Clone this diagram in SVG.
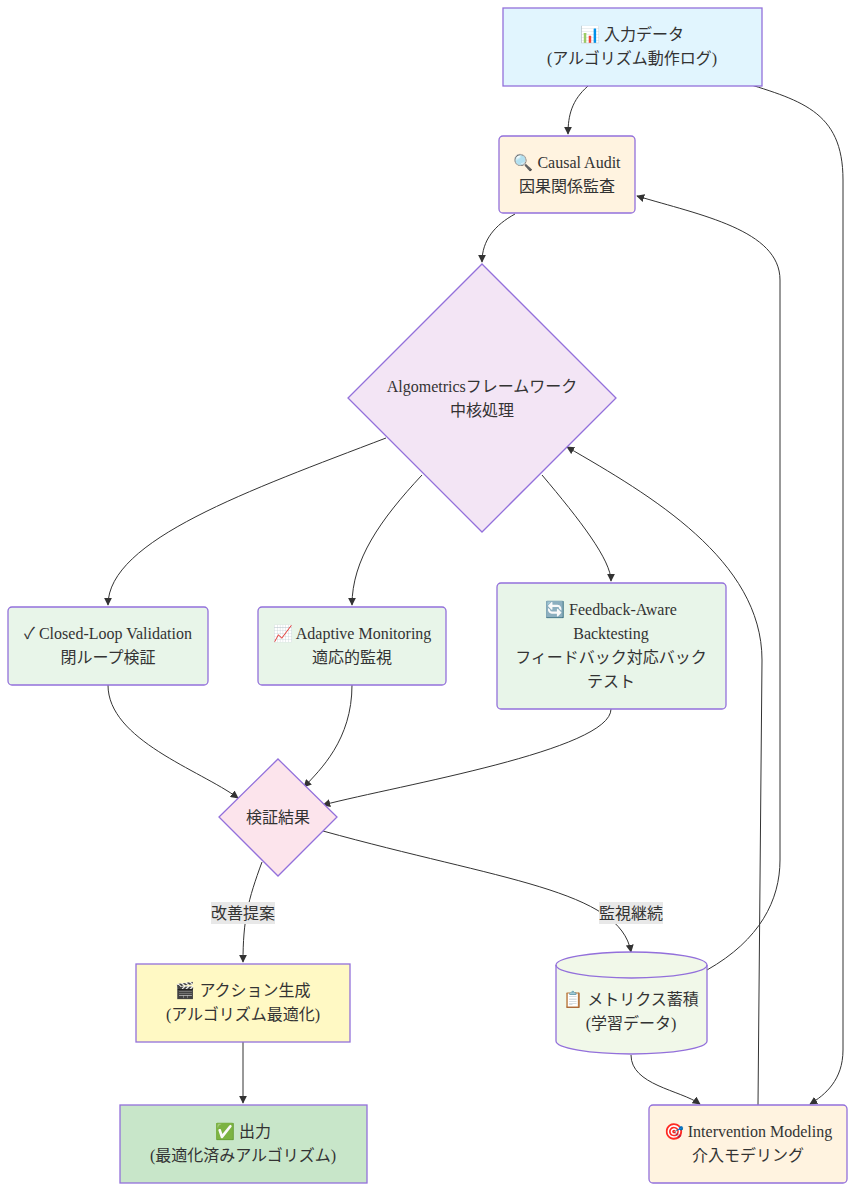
<svg xmlns="http://www.w3.org/2000/svg" width="855" height="1191" viewBox="0 0 855 1191">
<defs>
<marker id="ah" viewBox="0 0 10 10" refX="9" refY="5" markerWidth="8" markerHeight="8" orient="auto"><path d="M0,0 L10,5 L0,10 z" fill="#333"/></marker>
<style>
.n{stroke:#9370db;stroke-width:1.3}
.t{font-family:"Liberation Serif","Noto Sans CJK JP",serif;font-size:16px;fill:#333;text-anchor:middle}
.e{fill:none;stroke:#333;stroke-width:1;marker-end:url(#ah)}
.lb{fill:#e8e8e8}
</style>
</defs>
<rect width="855" height="1191" fill="#fff"/>
<g id="edges">
<path class="e" d="M588,86 C572,100 568,115 568,134"/>
<path class="e" d="M735,80 C800,100 843,110 843,180 L843,1050 C843,1080 825,1095 810,1104"/>
<path class="e" d="M515,214 C495,225 482,240 482,262"/>
<path class="e" d="M386,438 C250,490 108,540 108,605"/>
<path class="e" d="M422,475 C380,520 352,560 352,605"/>
<path class="e" d="M542,475 C580,520 611,560 611,581"/>
<path class="e" d="M108,685 C108,740 200,770 238,798"/>
<path class="e" d="M352,685 C352,740 320,770 304,787"/>
<path class="e" d="M611,709 C611,750 400,785 323,805"/>
<path class="e" d="M262,862 C248,900 243,920 243,962"/>
<path class="e" d="M323,831 C500,880 620,890 631,952"/>
<path class="e" d="M631,1055 C631,1085 680,1090 700,1104"/>
<path class="e" d="M243,1042 L243,1103"/>
<path class="e" d="M707,970 C760,940 780,900 780,860 L780,280 C780,230 700,215 637,196"/>
<path class="e" d="M758,1105 L762,660 C762,560 650,495 567,447"/>
<rect class="lb" x="211" y="902" width="64" height="22"/>
<text class="t" x="243" y="919">改善提案</text>
<rect class="lb" x="599" y="902" width="64" height="22"/>
<text class="t" x="631" y="919">監視継続</text>
</g>
<g id="input"><rect class="n" x="503" y="8" width="259" height="78" fill="#e1f5fe"/>
<text class="t" x="632" y="40">📊 入力データ</text><text class="t" x="632" y="64">(アルゴリズム動作ログ)</text></g>
<g id="causal"><rect class="n" x="499" y="136" width="136" height="77" rx="4" fill="#fff3e0"/>
<text class="t" x="567" y="168">🔍 Causal Audit</text><text class="t" x="567" y="192">因果関係監査</text></g>
<g id="core"><polygon class="n" points="482,264 616,398 482,532 348,398" fill="#f3e5f5"/>
<text class="t" x="482" y="392">Algometricsフレームワーク</text><text class="t" x="482" y="416">中核処理</text></g>
<g id="closed"><rect class="n" x="8" y="607" width="200" height="78" rx="4" fill="#e8f5e9"/>
<text class="t" x="108" y="639">✓ Closed-Loop Validation</text><text class="t" x="108" y="663">閉ループ検証</text></g>
<g id="adaptive"><rect class="n" x="258" y="607" width="188" height="78" rx="4" fill="#e8f5e9"/>
<text class="t" x="352" y="639">📈 Adaptive Monitoring</text><text class="t" x="352" y="663">適応的監視</text></g>
<g id="feedback"><rect class="n" x="497" y="583" width="229" height="126" rx="4" fill="#e8f5e9"/>
<text class="t" x="611" y="615">🔄 Feedback-Aware</text><text class="t" x="611" y="639">Backtesting</text><text class="t" x="611" y="663">フィードバック対応バック</text><text class="t" x="611" y="687">テスト</text></g>
<g id="result"><polygon class="n" points="278,759 337,817 278,876 219,817" fill="#fce4ec"/>
<text class="t" x="278" y="823">検証結果</text></g>
<g id="action"><rect class="n" x="136" y="964" width="214" height="78" fill="#fff9c4"/>
<text class="t" x="243" y="996">🎬 アクション生成</text><text class="t" x="243" y="1020">(アルゴリズム最適化)</text></g>
<g id="output"><rect class="n" x="120" y="1105" width="247" height="78" fill="#c8e6c9"/>
<text class="t" x="243" y="1137">✅ 出力</text><text class="t" x="243" y="1161">(最適化済みアルゴリズム)</text></g>
<g id="metrics"><path class="n" d="M556,965 A75.5,13 0 0 1 707,965 L707,1041 A75.5,13 0 0 1 556,1041 Z" fill="#f1f8e9"/>
<path class="n" fill="none" d="M556,965 A75.5,13 0 0 0 707,965"/>
<text class="t" x="631" y="1005">📋 メトリクス蓄積</text><text class="t" x="631" y="1029">(学習データ)</text></g>
<g id="intervention"><rect class="n" x="649" y="1105" width="198" height="78" rx="4" fill="#fff3e0"/>
<text class="t" x="748" y="1137">🎯 Intervention Modeling</text><text class="t" x="748" y="1161">介入モデリング</text></g>
</svg>
